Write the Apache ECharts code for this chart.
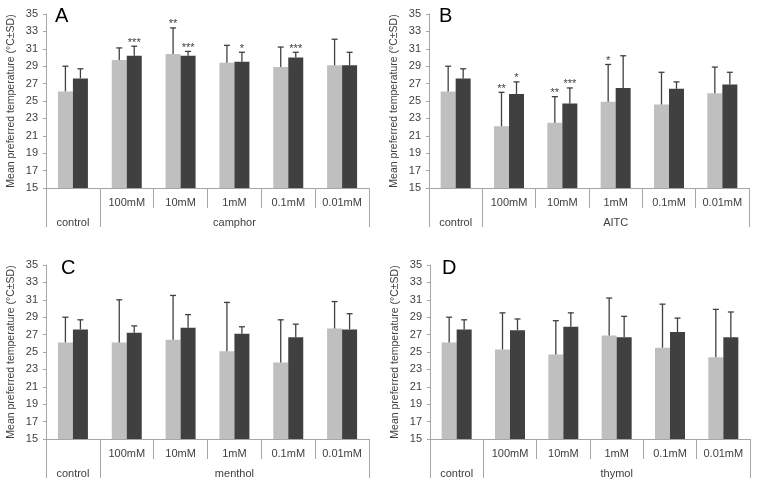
<!DOCTYPE html>
<html>
<head>
<meta charset="utf-8">
<script src="https://cdn.jsdelivr.net/npm/echarts@6/dist/echarts.min.js"></script>
<style>html,body{margin:0;padding:0;background:#fff}#c{width:760px;height:489px}</style>
</head>
<body>
<div id="c"></div>
<script>
// ---- data ----
const concentrations = ['control', '100mM', '10mM', '1mM', '0.1mM', '0.01mM'];
const compounds = ['camphor', 'AITC', 'menthol', 'thymol'];
const panelLetters = ['A', 'B', 'C', 'D'];
const yTicks = [15, 17, 19, 21, 23, 25, 27, 29, 31, 33, 35];

const camphorLightMean = [26.1, 29.7, 30.4, 29.4, 28.9, 29.1];
const camphorLightSD   = [2.9, 1.4, 3.0, 2.0, 2.3, 3.0];
const camphorDarkMean  = [27.6, 30.2, 30.2, 29.5, 30.0, 29.1];
const camphorDarkSD    = [1.1, 1.1, 0.5, 1.1, 0.6, 1.5];
const camphorLightStars = ['', '', '**', '', '', ''];
const camphorDarkStars  = ['', '***', '***', '*', '***', ''];

const aitcLightMean = [26.1, 22.1, 22.5, 24.9, 24.6, 25.9];
const aitcLightSD   = [2.9, 3.9, 3.0, 4.3, 3.7, 3.0];
const aitcDarkMean  = [27.6, 25.8, 24.7, 26.5, 26.4, 26.9];
const aitcDarkSD    = [1.1, 1.4, 1.8, 3.7, 0.8, 1.4];
const aitcLightStars = ['', '**', '**', '*', '', ''];
const aitcDarkStars  = ['', '*', '***', '', '', ''];

const mentholLightMean = [26.1, 26.1, 26.4, 25.1, 23.8, 27.7];
const mentholLightSD   = [2.9, 4.9, 5.1, 5.6, 4.9, 3.1];
const mentholDarkMean  = [27.6, 27.2, 27.8, 27.1, 26.7, 27.6];
const mentholDarkSD    = [1.1, 0.8, 1.5, 0.8, 1.5, 1.8];
const mentholLightStars = ['', '', '', '', '', ''];
const mentholDarkStars  = ['', '', '', '', '', ''];

const thymolLightMean = [26.1, 25.3, 24.7, 26.9, 25.5, 24.4];
const thymolLightSD   = [2.9, 4.2, 3.9, 4.3, 5.0, 5.5];
const thymolDarkMean  = [27.6, 27.5, 27.9, 26.7, 27.3, 26.7];
const thymolDarkSD    = [1.1, 1.3, 1.6, 2.4, 1.6, 2.9];
const thymolLightStars = ['', '', '', '', '', ''];
const thymolDarkStars  = ['', '', '', '', '', ''];

const panels = [
  {lm: camphorLightMean, ls: camphorLightSD, dm: camphorDarkMean, ds: camphorDarkSD, lst: camphorLightStars, dst: camphorDarkStars},
  {lm: aitcLightMean, ls: aitcLightSD, dm: aitcDarkMean, ds: aitcDarkSD, lst: aitcLightStars, dst: aitcDarkStars},
  {lm: mentholLightMean, ls: mentholLightSD, dm: mentholDarkMean, ds: mentholDarkSD, lst: mentholLightStars, dst: mentholDarkStars},
  {lm: thymolLightMean, ls: thymolLightSD, dm: thymolDarkMean, ds: thymolDarkSD, lst: thymolLightStars, dst: thymolDarkStars}
];

// ---- layout ----
const grids = [
  {left: 46, top: 14, width: 323, height: 174},
  {left: 429, top: 14, width: 320, height: 174},
  {left: 46, top: 265, width: 323, height: 174},
  {left: 430, top: 265, width: 320, height: 174}
];
const letterPos = [[55, 6], [439, 6], [61, 258], [442, 258]];

const LIGHT = '#bfbfbf', DARK = '#404040', AXIS = '#a6a6a6', TXT = '#404040';
const FONT = 'Liberation Sans, Arial, sans-serif';
const BAR_W = 15;

function makeErr(stars, side) {
  return function (params, api) {
    const x = api.value(0), m = api.value(1), sd = api.value(2);
    const base = api.coord([x, m]);
    const top = api.coord([x, m + sd]);
    const cx = base[0] + side * BAR_W / 2;
    const st = {stroke: '#404040', lineWidth: 1.3};
    const children = [
      {type: 'line', shape: {x1: cx, y1: base[1], x2: cx, y2: top[1]}, style: st},
      {type: 'line', shape: {x1: cx - 3, y1: top[1], x2: cx + 3, y2: top[1]}, style: st}
    ];
    const s = stars[params.dataIndex];
    if (s) {
      children.push({type: 'text', x: cx, y: top[1] + 2,
        style: {text: s, fill: '#404040', font: '11px ' + FONT, textAlign: 'center', textVerticalAlign: 'bottom'}});
    }
    return {type: 'group', children: children};
  };
}

const option = {
  animation: false,
  backgroundColor: '#fff',
  title: panelLetters.map((l, i) => ({
    text: l, left: letterPos[i][0], top: letterPos[i][1], padding: 0,
    textStyle: {fontSize: 20, fontWeight: 'normal', color: '#000', fontFamily: FONT}
  })),
  grid: grids,
  xAxis: [],
  yAxis: [],
  series: []
};

panels.forEach((p, g) => {
  option.xAxis.push({
    type: 'category', gridIndex: g, position: 'bottom', data: concentrations.map((c, i) => i === 0 ? '' : c),
    axisLine: {show: true, lineStyle: {color: AXIS, width: 1}},
    axisTick: {show: true, length: 20, lineStyle: {color: AXIS}},
    axisLabel: {interval: 0, margin: 9, fontSize: 11, color: TXT, fontFamily: FONT},
    splitLine: {show: false}
  });
  option.xAxis.push({
    type: 'value', gridIndex: g, position: 'bottom', min: 0, max: 6,
    axisLine: {show: false},
    axisTick: {show: true, length: 39, customValues: [0, 1, 6], lineStyle: {color: AXIS}},
    axisLabel: {show: true, margin: 29, fontSize: 11, color: TXT, fontFamily: FONT,
      customValues: [0.5, 3.5],
      formatter: v => (v < 1 ? concentrations[0] : compounds[g])},
    splitLine: {show: false}
  });
  option.yAxis.push({
    type: 'value', gridIndex: g, min: yTicks[0], max: yTicks[yTicks.length - 1], interval: 2,
    name: 'Mean preferred temperature (\u00b0C\u00b1SD)', nameLocation: 'middle', nameGap: 29,
    nameTextStyle: {fontSize: 10.5, color: TXT, fontFamily: FONT},
    axisLine: {show: true, lineStyle: {color: AXIS}},
    axisTick: {show: true, length: 3, lineStyle: {color: AXIS}},
    axisLabel: {fontSize: 11, color: TXT, margin: 8, fontFamily: FONT},
    splitLine: {show: false}
  });
  const xi = g * 2;
  option.series.push({
    type: 'bar', xAxisIndex: xi, yAxisIndex: g, data: p.lm, barWidth: BAR_W, barGap: '0%',
    itemStyle: {color: LIGHT}, z: 2
  });
  option.series.push({
    type: 'bar', xAxisIndex: xi, yAxisIndex: g, data: p.dm, barWidth: BAR_W, barGap: '0%',
    itemStyle: {color: DARK}, z: 2
  });
  option.series.push({
    type: 'custom', xAxisIndex: xi, yAxisIndex: g, renderItem: makeErr(p.lst, -1),
    data: p.lm.map((m, i) => [i, m, p.ls[i]]), z: 3
  });
  option.series.push({
    type: 'custom', xAxisIndex: xi, yAxisIndex: g, renderItem: makeErr(p.dst, 1),
    data: p.dm.map((m, i) => [i, m, p.ds[i]]), z: 3
  });
});

const chart = echarts.init(document.getElementById('c'), null, {renderer: 'canvas'});
chart.setOption(option);
</script>
</body>
</html>
